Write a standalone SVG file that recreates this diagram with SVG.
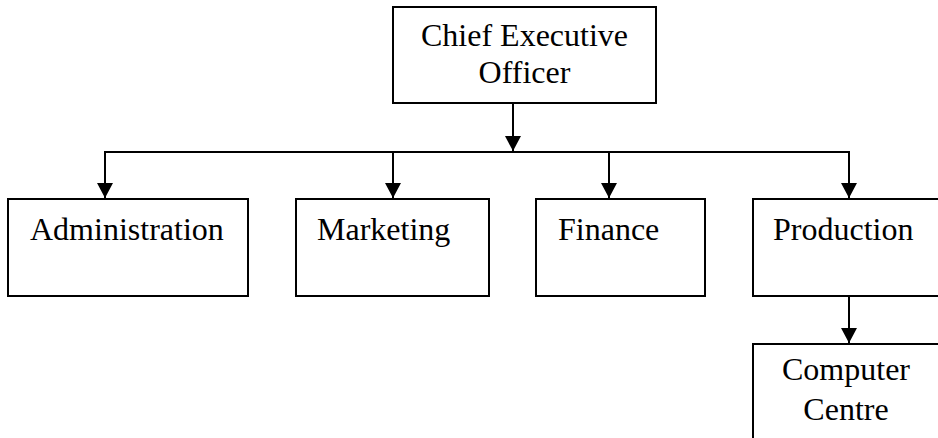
<svg xmlns="http://www.w3.org/2000/svg" width="938" height="438" viewBox="0 0 938 438">
<style>
.box{fill:#fff;stroke:#000;stroke-width:2}
.lbl{font-family:"Liberation Serif","Times New Roman",serif;font-size:32px;fill:#000}
.c{text-anchor:middle}
.ln{fill:none;stroke:#000;stroke-width:2}
</style>
<defs>
<marker id="ah" markerUnits="userSpaceOnUse" markerWidth="16" markerHeight="16" viewBox="0 0 16 16" refX="15" refY="8" orient="auto">
<path d="M0,0 L15,8 L0,16 Z" fill="#000"/>
</marker>
</defs>
<rect width="938" height="438" fill="#fff"/>
<g id="connectors">
<line class="ln" x1="513" y1="103" x2="513" y2="151" marker-end="url(#ah)"/>
<line class="ln" x1="104" y1="152" x2="850" y2="152"/>
<line class="ln" x1="105" y1="152" x2="105" y2="198" marker-end="url(#ah)"/>
<line class="ln" x1="393" y1="152" x2="393" y2="198" marker-end="url(#ah)"/>
<line class="ln" x1="609" y1="152" x2="609" y2="198" marker-end="url(#ah)"/>
<line class="ln" x1="849" y1="152" x2="849" y2="198" marker-end="url(#ah)"/>
<line class="ln" x1="849" y1="296" x2="849" y2="343" marker-end="url(#ah)"/>
</g>
<g id="ceo">
<rect class="box" x="393" y="7" width="263" height="96"/>
<text class="lbl c" x="524.5" y="46">Chief Executive</text>
<text class="lbl c" x="524.5" y="83">Officer</text>
</g>
<g id="administration">
<rect class="box" x="8" y="199" width="240" height="97"/>
<text class="lbl" x="30" y="240">Administration</text>
</g>
<g id="marketing">
<rect class="box" x="296" y="199" width="193" height="97"/>
<text class="lbl" x="317" y="240">Marketing</text>
</g>
<g id="finance">
<rect class="box" x="536" y="199" width="169" height="97"/>
<text class="lbl" x="558" y="240">Finance</text>
</g>
<g id="production">
<rect class="box" x="753" y="199" width="200" height="97"/>
<text class="lbl" x="773" y="240">Production</text>
</g>
<g id="computer-centre">
<rect class="box" x="753" y="344" width="200" height="110"/>
<text class="lbl c" x="846" y="380">Computer</text>
<text class="lbl c" x="846" y="420">Centre</text>
</g>
</svg>
